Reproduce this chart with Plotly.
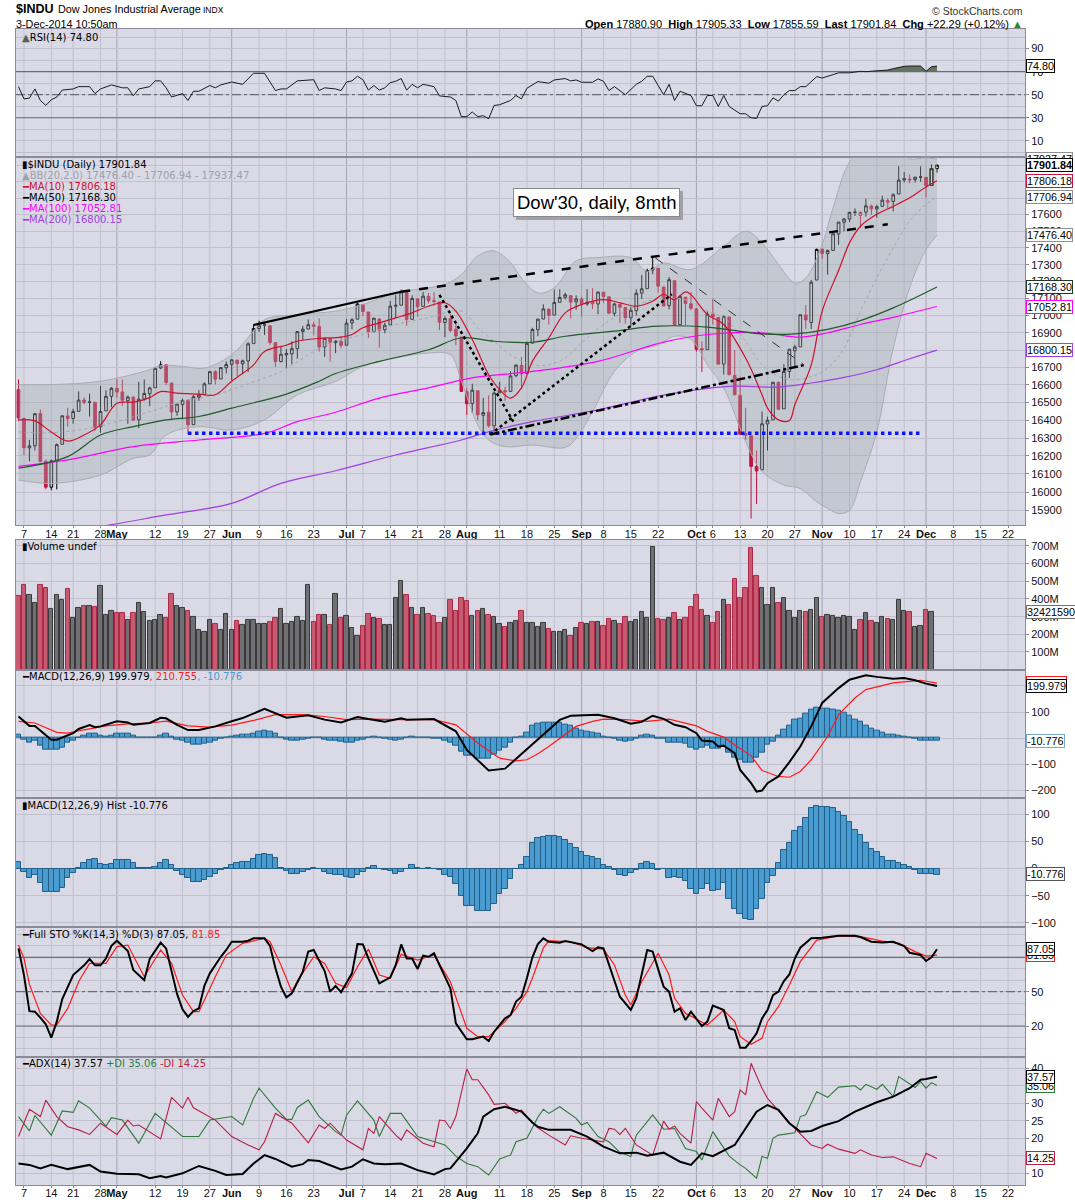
import math
import plotly.graph_objects as go
from plotly.subplots import make_subplots

# one entry per trading day, 4-Apr-2014 (index 0) .. 3-Dec-2014 (index 168)
opens = [16573, 16410, 16245, 16256, 16437, 16170, 16027, 16175, 16265, 16424,
         16410, 16450, 16514, 16503, 16500, 16363, 16453, 16535, 16580, 16560,
         16510, 16530, 16402, 16520, 16550, 16584, 16697, 16715, 16610, 16447,
         16488, 16511, 16375, 16530, 16545, 16606, 16676, 16634, 16698, 16718,
         16742, 16720, 16737, 16837, 16925, 16944, 16940, 16843, 16734, 16772,
         16778, 16808, 16907, 16922, 16946, 16936, 16818, 16867, 16843, 16850,
         16828, 16957, 16979, 17065, 17021, 16907, 16980, 16917, 16946, 17055,
         17061, 17135, 16978, 17098, 17054, 17113, 17088, 17080, 16960, 16983,
         16920, 16875, 16561, 16494, 16567, 16428, 16445, 16368, 16556, 16567,
         16563, 16653, 16712, 16665, 16840, 16918, 16980, 17038, 17003, 17078,
         17107, 17117, 17081, 17097, 17068, 17081, 17068, 17137, 17110, 17013,
         17066, 17048, 16988, 17029, 17132, 17158, 17268, 17278, 17168, 17058,
         17205, 16947, 17108, 17069, 17040, 16808, 16802, 17010, 16989, 16719,
         16992, 16654, 16540, 16326, 16313, 16142, 16123, 16379, 16402, 16614,
         16464, 16677, 16796, 16818, 17004, 16960, 17209, 17392, 17366, 17385,
         17483, 17554, 17573, 17613, 17595, 17615, 17652, 17634, 17650, 17675,
         17680, 17725, 17811, 17810, 17813, 17830, 17827, 17777, 17881]
highs = [16631, 16415, 16290, 16440, 16460, 16180, 16180, 16270, 16425, 16470,
         16465, 16563, 16530, 16550, 16505, 16595, 16570, 16588, 16632, 16632,
         16540, 16535, 16618, 16631, 16590, 16700, 16736, 16718, 16615, 16492,
         16522, 16520, 16543, 16570, 16615, 16680, 16684, 16700, 16735, 16745,
         16743, 16745, 16845, 16950, 16970, 16960, 16945, 16846, 16823, 16807,
         16851, 16910, 16939, 16978, 16963, 16983, 16870, 16867, 16855, 16880,
         16980, 16985, 17074, 17068, 17021, 16987, 16985, 16960, 17086, 17120,
         17152, 17151, 17119, 17100, 17140, 17133, 17138, 17080, 16996, 17010,
         16965, 16875, 16580, 16607, 16567, 16526, 16541, 16562, 16617, 16590,
         16678, 16718, 16760, 16849, 16929, 16983, 17066, 17038, 17153, 17154,
         17135, 17117, 17119, 17111, 17155, 17161, 17141, 17137, 17110, 17075,
         17066, 17048, 17050, 17155, 17239, 17276, 17350, 17281, 17168, 17227,
         17205, 17121, 17108, 17138, 17040, 16850, 17027, 17099, 16993, 17001,
         16992, 16800, 16647, 16470, 16313, 16230, 16449, 16420, 16615, 16621,
         16719, 16805, 16830, 17005, 17061, 17210, 17396, 17396, 17389, 17485,
         17555, 17578, 17617, 17637, 17620, 17697, 17660, 17660, 17715, 17700,
         17730, 17895, 17859, 17845, 17830, 17894, 17828, 17904, 17905]
lows = [16395, 16205, 16170, 16230, 16165, 16015, 16010, 16015, 16265, 16364,
        16380, 16450, 16490, 16420, 16340, 16330, 16453, 16474, 16527, 16481,
        16380, 16395, 16355, 16510, 16480, 16584, 16690, 16600, 16400, 16425,
        16405, 16320, 16375, 16510, 16540, 16606, 16603, 16633, 16666, 16625,
        16651, 16662, 16674, 16837, 16905, 16888, 16830, 16703, 16728, 16698,
        16719, 16750, 16856, 16922, 16886, 16791, 16761, 16733, 16782, 16810,
        16828, 16920, 16979, 16997, 16870, 16902, 16815, 16897, 16946, 16986,
        17061, 16940, 16978, 16993, 17054, 17071, 17057, 16915, 16875, 16904,
        16828, 16563, 16430, 16440, 16400, 16333, 16358, 16334, 16556, 16510,
        16563, 16643, 16575, 16665, 16840, 16880, 16980, 16948, 17003, 17078,
        17094, 16983, 17034, 16994, 17058, 17038, 17008, 17074, 17010, 16996,
        16958, 16953, 16935, 17000, 17097, 17158, 17243, 17135, 17055, 17036,
        16940, 16947, 16945, 17031, 16791, 16674, 16802, 16947, 16719, 16659,
        16654, 16541, 16321, 16290, 15855, 15935, 16123, 16230, 16402, 16459,
        16464, 16640, 16696, 16818, 16922, 16922, 17209, 17335, 17240, 17384,
        17418, 17498, 17556, 17592, 17522, 17588, 17598, 17581, 17650, 17640,
        17620, 17725, 17795, 17790, 17795, 17800, 17705, 17777, 17856]
closes = [16413, 16246, 16256, 16437, 16170, 16027, 16173, 16263, 16425, 16409,
          16449, 16514, 16501, 16502, 16361, 16449, 16535, 16581, 16559, 16513,
          16531, 16401, 16519, 16551, 16583, 16695, 16715, 16614, 16447, 16491,
          16512, 16374, 16533, 16543, 16606, 16676, 16633, 16699, 16717, 16744,
          16722, 16738, 16836, 16924, 16943, 16946, 16844, 16734, 16776, 16781,
          16808, 16907, 16921, 16947, 16937, 16818, 16868, 16846, 16852, 16827,
          16956, 16976, 17068, 17024, 16906, 16985, 16915, 16944, 17055, 17060,
          17138, 16977, 17100, 17052, 17114, 17087, 17083, 16961, 16983, 16913,
          16881, 16563, 16493, 16570, 16430, 16443, 16369, 16554, 16570, 16561,
          16651, 16713, 16663, 16839, 16919, 16979, 17039, 17001, 17077, 17106,
          17122, 17079, 17098, 17067, 17078, 17069, 17138, 17111, 17014, 17068,
          17049, 16988, 17031, 17131, 17157, 17266, 17280, 17173, 17056, 17211,
          16946, 17113, 17071, 17043, 16804, 16801, 17009, 16992, 16719, 16994,
          16659, 16544, 16321, 16316, 16142, 16117, 16380, 16400, 16615, 16462,
          16677, 16805, 16818, 17005, 16975, 17196, 17391, 17367, 17384, 17485,
          17555, 17574, 17614, 17615, 17613, 17653, 17635, 17648, 17688, 17686,
          17720, 17810, 17818, 17815, 17828, 17828, 17776, 17880, 17902]
# millions of shares; the live day (3-Dec) has no bar
volume_m = [416, 479, 420, 375, 477, 460, 346, 420, 397, 454,
            295, 352, 359, 363, 357, 473, 312, 335, 320, 323,
            284, 323, 380, 325, 274, 284, 312, 291, 431, 363,
            350, 331, 301, 227, 216, 284, 261, 227, 314, 223,
            274, 252, 280, 284, 257, 261, 269, 295, 341, 261,
            269, 301, 274, 482, 269, 312, 312, 255, 431, 295,
            306, 238, 193, 250, 318, 295, 289, 252, 255, 403,
            501, 420, 352, 312, 352, 318, 305, 267, 295, 397,
            335, 403, 388, 306, 335, 346, 312, 301, 261, 244,
            267, 278, 335, 267, 267, 244, 267, 229, 216, 216,
            223, 193, 238, 267, 261, 272, 272, 250, 289, 278,
            261, 301, 272, 284, 329, 295, 692, 289, 284, 295,
            323, 284, 295, 357, 425, 340, 306, 267, 329, 397,
            369, 511, 408, 460, 687, 528, 460, 369, 460, 375,
            403, 335, 295, 335, 329, 340, 408, 301, 312, 306,
            295, 306, 301, 227, 284, 323, 278, 267, 301, 289,
            284, 392, 335, 329, 244, 250, 340, 324, None]
macd_hist = [12, -6, -17, -11, -27, -43, -43, -43, -36, -17,
             -8, 2, 10, 16, 17, 8, 7, 9, 16, 16,
             16, 11, 1, 1, 1, 3, 11, 16, 6, -4,
             -11, -18, -25, -25, -21, -16, -10, -2, 2, 6,
             11, 12, 12, 17, 26, 27, 26, 19, 1, -4,
             -10, -10, -6, -2, 1, 0, -6, -10, -11, -12,
             -16, -17, -11, -6, 2, 5, 0, -2, -4, -9,
             -6, 0, 6, 2, 0, 1, -1, -3, -11, -16,
             -28, -50, -68, -68, -78, -78, -78, -65, -47, -37,
             -19, 0, 7, 22, 48, 57, 59, 61, 61, 59,
             53, 46, 38, 30, 23, 22, 17, 6, 3, -3,
             -11, -13, -8, -3, 8, 13, 8, -3, -1, -18,
             -16, -18, -23, -37, -46, -37, -29, -41, -40, -27,
             -55, -74, -83, -93, -95, -75, -56, -26, -14, 10,
             34, 48, 69, 76, 93, 111, 116, 113, 113, 111,
             104, 97, 85, 72, 62, 48, 37, 30, 21, 14,
             14, 10, 6, 3, -3, -10, -10, -10, -10.776]

# indicator lines: (trading-day index, value)
rsi_pts = [(0, 57), (1, 46.4), (2, 47), (3, 55), (4, 45), (5, 40.7), (6, 45.6), (7, 48), (8, 54), (10, 55),
           (11, 57), (13, 57), (14, 51), (15, 55), (17, 58.5), (19, 56), (20, 56), (21, 49), (22, 55), (24, 57),
           (25, 62), (26, 62), (27, 56), (28, 48), (30, 51), (31, 45), (32, 53), (33, 53), (35, 58), (36, 56),
           (37, 58.5), (39, 61), (41, 59), (43, 68.6), (45, 68.6), (47, 53.6), (48, 55), (49, 55), (51, 62), (54, 63),
           (55, 53.6), (56, 56), (58, 55), (59, 53.6), (60, 61), (61, 62), (62, 66), (63, 63), (64, 54), (65, 58),
           (66, 54), (67, 56), (68, 60.5), (69, 61.7), (70, 64), (71, 54), (72, 59), (73, 56), (74, 59), (75, 58),
           (76, 57), (77, 49), (79, 48), (80, 45), (81, 31), (82, 31), (83, 35), (84, 31), (85, 31.8), (86, 29.2),
           (87, 40.7), (88, 41.3), (90, 45), (91, 49.3), (92, 46.4), (93, 55.6), (95, 61.4), (97, 60), (98, 62.8),
           (100, 64), (101, 62), (102, 62.8), (103, 60.8), (105, 60.8), (106, 63.7), (107, 61.7), (108, 53.6),
           (109, 57), (111, 50), (113, 59), (114, 61.7), (115, 66), (116, 66), (117, 58), (118, 50), (119, 59),
           (120, 45), (121, 53), (122, 51), (123, 49.3), (124, 40.4), (125, 40.4), (126, 49.3), (127, 49.3),
           (128, 39.8), (129, 49.3), (130, 39.8), (131, 37), (132, 33.5), (133, 33.5), (134, 30), (135, 29.5),
           (136, 39.8), (137, 40.4), (138, 47.3), (139, 44.4), (140, 50), (141, 53.6), (142, 53.6), (143, 57),
           (144, 57), (146, 65.7), (147, 64.5), (149, 67.4), (150, 69), (152, 69), (154, 70.3), (155, 70),
           (157, 71), (159, 71.4), (160, 72.6), (162, 74.6), (163, 74.9), (165, 74.9), (166, 70.3), (167, 74.3),
           (168, 74.8)]
ma10_pts = [(0, 16402), (3, 16396), (6, 16334), (9, 16283), (12, 16317), (15, 16374), (18, 16496), (21, 16502),
            (24, 16528), (26, 16562), (29, 16553), (33, 16548), (36, 16544), (39, 16621), (43, 16715), (45, 16792),
            (49, 16828), (51, 16851), (55, 16867), (59, 16875), (61, 16890), (63, 16929), (66, 16958), (69, 16987),
            (72, 17016), (75, 17055), (78, 17075), (80, 17026), (83, 16861), (86, 16658), (88, 16573), (90, 16525),
            (92, 16583), (94, 16735), (97, 16871), (100, 17016), (103, 17065), (107, 17094), (110, 17075),
            (113, 17055), (116, 17084), (118, 17125), (120, 17094), (122, 17139), (123, 17123), (126, 17006),
            (129, 16948), (133, 16754), (136, 16544), (137, 16468), (139, 16402), (141, 16398), (142, 16487),
            (145, 16715), (147, 17026), (150, 17265), (152, 17430), (154, 17530), (157, 17602), (160, 17650),
            (163, 17702), (166, 17768), (168, 17806)]
ma50_pts = [(0, 16132), (9, 16196), (15, 16317), (21, 16364), (27, 16402), (33, 16421), (39, 16468), (49, 16548),
            (55, 16621), (58, 16665), (66, 16735), (75, 16802), (81, 16871), (87, 16851), (94, 16845), (100, 16880),
            (109, 16910), (117, 16939), (126, 16933), (136, 16894), (142, 16894), (148, 16920), (154, 16971),
            (160, 17045), (168, 17168)]
ma100_pts = [(0, 16142), (9, 16178), (21, 16252), (33, 16289), (45, 16326), (51, 16392), (58, 16445),
             (66, 16525), (75, 16583), (83, 16640), (94, 16677), (106, 16735), (118, 16846), (126, 16890),
             (136, 16900), (143, 16875), (148, 16900), (154, 16948), (160, 16990), (168, 17053)]
ma200_pts = [(10, 15790), (17, 15822), (27, 15875), (39, 15938), (48, 16048), (58, 16118), (69, 16205),
             (81, 16289), (86, 16335), (94, 16392), (106, 16458), (118, 16542), (130, 16592), (139, 16588),
             (145, 16611), (151, 16643), (157, 16687), (163, 16750), (168, 16800)]
bb_up_pts = [(0, 16602), (6, 16602), (15, 16621), (24, 16687), (26, 16711), (30, 16706), (34, 16696), (39, 16773),
             (43, 16910), (45, 16977), (51, 17006), (58, 17026), (63, 17065), (69, 17133), (75, 17163), (78, 17182),
             (81, 17241), (84, 17352), (87, 17382), (90, 17312), (92, 17221), (95, 17133), (98, 17163), (102, 17322),
             (106, 17342), (112, 17342), (115, 17261), (118, 17310), (123, 17271), (129, 17410), (133, 17500),
             (136, 17430), (139, 17302), (142, 17192), (144, 17221), (147, 17420), (149, 17642), (152, 17920),
             (155, 18010), (158, 18030), (161, 18000), (163, 17940), (166, 17947), (168, 17937)]
bb_lo_pts = [(0, 16067), (6, 16048), (15, 16094), (21, 16187), (24, 16205), (27, 16317), (33, 16364), (39, 16345),
             (45, 16402), (51, 16544), (58, 16620), (63, 16706), (69, 16754), (75, 16783), (79, 16773), (81, 16621),
             (84, 16374), (86, 16289), (89, 16252), (94, 16261), (100, 16247), (102, 16298), (105, 16449),
             (109, 16677), (113, 16792), (117, 16830), (120, 16880), (123, 16861), (126, 16715), (129, 16583),
             (133, 16279), (136, 16113), (140, 16039), (143, 16020), (146, 15947), (148, 15911), (150, 15883),
             (152, 15900), (154, 16057), (157, 16336), (160, 16811), (163, 17163), (166, 17390), (168, 17476)]
bb_mid_pts = [(0, 16334), (6, 16330), (12, 16350), (18, 16392), (24, 16449), (30, 16506), (36, 16544),
              (42, 16606), (48, 16677), (54, 16792), (57, 16841), (63, 16890), (69, 16948), (75, 16987),
              (81, 17026), (84, 16929), (87, 16851), (90, 16773), (94, 16715), (97, 16715), (100, 16754),
              (103, 16841), (107, 16948), (111, 17026), (115, 17084), (118, 17103), (123, 17084), (126, 17026),
              (129, 16987), (133, 16851), (136, 16715), (139, 16648), (142, 16629), (145, 16648), (148, 16696),
              (151, 16811), (154, 17026), (157, 17221), (160, 17400), (163, 17561), (166, 17662), (168, 17707)]
macd_pts = [(0, 83), (2, 47), (3, 47), (6, -6), (7, -6), (10, 19), (11, 35), (13, 50), (14, 42), (15, 45),
            (18, 65), (20, 60), (21, 51), (24, 58), (26, 78), (27, 76), (29, 51), (31, 31), (33, 31), (36, 45),
            (39, 65), (41, 77), (45, 112), (46, 103), (49, 78), (53, 88), (56, 71), (59, 60), (62, 81), (64, 73),
            (67, 63), (70, 76), (71, 71), (76, 73), (78, 50), (80, 26), (82, -45), (86, -124), (89, -117),
            (92, -60), (95, -5), (97, 32), (99, 70), (101, 86), (104, 88), (106, 90), (109, 76), (112, 55),
            (114, 63), (116, 86), (118, 74), (120, 51), (122, 42), (124, 19), (125, -9), (127, -13), (128, -32),
            (129, -29), (131, -58), (132, -122), (134, -173), (135, -205), (136, -201), (137, -173), (139, -147),
            (141, -92), (143, -32), (145, 45), (147, 135), (150, 192), (152, 224), (155, 241), (157, 235),
            (160, 228), (162, 231), (164, 222), (166, 209), (168, 199.979)]
signal_pts = [(0, 64), (3, 58), (7, 22), (9, 19), (12, 32), (16, 47), (20, 55), (24, 58), (27, 65), (31, 47),
              (35, 42), (39, 50), (43, 68), (47, 90), (52, 90), (56, 83), (60, 71), (64, 73), (70, 71), (76, 71),
              (80, 51), (84, -19), (88, -77), (91, -87), (93, -83), (95, -60), (97, -32), (100, 13), (102, 45),
              (105, 64), (107, 73), (111, 71), (115, 64), (119, 73), (121, 63), (124, 47), (126, 26), (129, 4),
              (131, -26), (134, -68), (136, -124), (139, -147), (141, -150), (143, -128), (145, -83), (148, 6),
              (150, 90), (153, 154), (155, 186), (158, 201), (160, 212), (163, 218), (165, 222), (168, 210.755)]
stok_pts = [(0, 87.8), (1, 64.5), (2, 33), (3, 32.5), (4, 27.3), (5, 21.5), (6, 9.8), (7, 23.8), (8, 43.6),
            (10, 64.5), (12, 73), (13, 78.5), (14, 73), (15, 73), (16, 79), (17, 90), (18, 94.5), (19, 90),
            (20, 85.5), (21, 69), (23, 60), (24, 78.5), (26, 92.8), (27, 87.8), (29, 48), (30, 34.6), (31, 28),
            (32, 33), (33, 35.4), (34, 55), (35, 66), (37, 80.5), (38, 86.4), (39, 93.6), (41, 93.6), (42, 94.5),
            (43, 96.6), (45, 96.6), (46, 90), (47, 70.4), (48, 54.4), (49, 45), (50, 48.5), (52, 67.5), (53, 85),
            (54, 86.4), (56, 68), (57, 50), (58, 55), (59, 49.4), (61, 66), (62, 91.6), (63, 91.3), (64, 79),
            (66, 57.3), (68, 62.5), (69, 73.3), (70, 91.3), (71, 79), (72, 79), (73, 69.8), (74, 81.4), (75, 80.5),
            (76, 83.5), (79, 53), (80, 22.3), (82, 8.4), (83, 8.4), (85, 10.7), (86, 6.9), (87, 15), (89, 26.7),
            (90, 29.6), (91, 41.3), (92, 45.6), (93, 62), (94, 80), (95, 91.6), (96, 96.6), (97, 93.6), (99, 92.8),
            (100, 94.2), (103, 91.3), (105, 85.5), (106, 88.7), (107, 87.8), (108, 73.3), (110, 45.6), (112, 34),
            (113, 44.2), (115, 86.4), (116, 85), (118, 54.4), (119, 50), (120, 32.5), (121, 35.4), (122, 25.2),
            (123, 32.5), (125, 20), (126, 23.8), (127, 37.8), (129, 34), (130, 18), (131, 16.5), (132, 1.1),
            (133, 1.1), (134, 6.9), (135, 13.6), (136, 26.7), (137, 34), (138, 47), (139, 50), (140, 59.3),
            (141, 65), (142, 79), (143, 88.4), (145, 96.6), (147, 97.1), (150, 98.9), (153, 98.9), (154, 97.7),
            (156, 93.6), (158, 93), (160, 93.6), (162, 89.9), (163, 84), (165, 82), (166, 76.8), (167, 80),
            (168, 87.05)]
stod_pts = [(0, 90.7), (1, 79), (2, 56.4), (4, 31), (6, 20.9), (7, 20.9), (9, 35.4), (11, 58.7), (13, 74.7),
            (16, 74.7), (18, 89.3), (20, 90.7), (23, 63), (26, 86.4), (28, 74.7), (30, 47), (32, 32.5), (33, 32.5),
            (36, 63), (38, 82), (41, 92.2), (45, 96.6), (46, 93.6), (48, 73.3), (50, 50), (51, 59.3), (54, 80.5),
            (56, 74.7), (58, 57.3), (60, 53.5), (62, 71.8), (64, 87.2), (66, 64.5), (68, 61.6), (70, 82.6),
            (73, 77.6), (76, 82), (79, 58.7), (82, 18), (84, 10.7), (86, 10.7), (89, 23.8), (91, 35.4), (93, 50),
            (94, 62), (95, 75), (96, 88), (97, 94.5), (101, 93.6), (104, 88.4), (107, 87.2), (109, 73.3), (111, 47),
            (112, 38.3), (114, 58.7), (117, 83.5), (119, 64.5), (120, 44.2), (122, 31), (124, 26.1), (126, 20.9),
            (129, 34), (131, 23.8), (132, 10.7), (134, 4), (136, 9.2), (137, 23.8), (139, 36.9), (141, 55.8),
            (143, 76.2), (146, 95.1), (150, 98.6), (154, 98), (158, 94.2), (161, 92.2), (164, 85), (166, 81.1),
            (168, 81.85)]
adx_pts = [(0, 12.8), (2, 12.4), (4, 11.4), (6, 12.4), (9, 11.2), (13, 12.4), (15, 10.5), (18, 9.9), (22, 9.7),
           (24, 8.6), (26, 9.2), (27, 8.8), (30, 10), (33, 12.1), (36, 10.7), (38, 9.5), (41, 9.8), (43, 12.8),
           (45, 15.2), (47, 14.1), (50, 11.9), (52, 12.6), (53, 13.8), (55, 13.5), (59, 11.1), (61, 11.9), (63, 14),
           (65, 12.8), (67, 12.6), (70, 12.8), (73, 10.9), (76, 9.7), (78, 11.2), (79, 11.4), (82, 17.1), (84, 21.4),
           (85, 26.2), (87, 28.3), (89, 29), (92, 27.6), (94, 24.5), (95, 23.3), (97, 22.4), (101, 22.4), (104, 20.5),
           (107, 17.6), (110, 15.7), (113, 15.9), (115, 15), (118, 15.9), (121, 13.3), (123, 12.4), (125, 15.7),
           (127, 14.9), (131, 18.1), (133, 22.8), (135, 27.6), (137, 29.5), (139, 28.1), (141, 24.3), (143, 21.9),
           (145, 22.1), (147, 23.5), (150, 24.9), (153, 27.6), (157, 30.3), (160, 31.9), (163, 34.3), (165, 36.7),
           (166, 36.9), (168, 37.57)]
pdi_pts = [(0, 26.2), (2, 22.1), (3, 26.5), (6, 20.9), (8, 27.8), (10, 27.4), (11, 30.7), (13, 28.6), (16, 23.5),
           (17, 25.9), (19, 25.2), (22, 18.6), (25, 27.1), (29, 21.6), (30, 20.5), (33, 20.5), (35, 25.2), (39, 26.2),
           (41, 23.8), (43, 31.4), (44, 34.3), (47, 28.6), (49, 25.4), (50, 25.4), (51, 28.8), (53, 30.9), (55, 26.2),
           (58, 21.9), (59, 20.9), (60, 26.6), (62, 30.7), (65, 25.2), (66, 20.5), (68, 27.1), (70, 27.1), (73, 20.5),
           (76, 19), (78, 18.1), (80, 14.9), (82, 12.8), (84, 11.9), (86, 9.5), (88, 14.1), (90, 15.2), (91, 19),
           (93, 20), (95, 26), (96, 28.3), (97, 27.1), (99, 29), (102, 25.7), (103, 23.8), (104, 24.5), (106, 20.5),
           (108, 19), (110, 16), (112, 14.8), (113, 20.9), (116, 26.7), (118, 22.6), (120, 22.8), (122, 17.1),
           (124, 16.2), (125, 13.8), (127, 21.9), (130, 14.9), (132, 12.4), (133, 11.4), (135, 8.6), (136, 14.8),
           (137, 14.3), (138, 20), (139, 20.9), (141, 21.4), (142, 21.6), (143, 26.2), (144, 26.7), (146, 33.3),
           (148, 31.7), (150, 34.6), (153, 35), (154, 33.8), (155, 35.4), (157, 34), (158, 35.4), (160, 31.9),
           (161, 37.6), (164, 34.5), (165, 36.2), (166, 34.3), (167, 35.9), (168, 35.06)]
mdi_pts = [(0, 20.5), (2, 28.3), (4, 26.2), (5, 30.9), (7, 26.2), (9, 23.3), (11, 22.4), (13, 21.1), (15, 24.3),
           (18, 21.1), (20, 25.2), (21, 23.5), (22, 23.8), (26, 19.8), (28, 31.7), (30, 28.6), (31, 31.7), (32, 28.7),
           (36, 25.2), (39, 20.5), (42, 18.1), (44, 16.7), (45, 19), (47, 27.1), (50, 24.3), (53, 18.7), (55, 23.8),
           (56, 22.8), (57, 24.3), (60, 19.5), (63, 16.7), (64, 22.8), (65, 21.4), (66, 26.2), (69, 20.9), (70, 19.5),
           (71, 22.4), (74, 18.6), (76, 17.6), (77, 25.2), (78, 25), (79, 22.8), (80, 26.2), (82, 39.8), (83, 36.7),
           (84, 36.7), (86, 32.4), (87, 29.7), (89, 30), (91, 27.1), (92, 28.1), (94, 24.3), (95, 23), (97, 20.9),
           (100, 18.1), (101, 20.7), (103, 20), (107, 19), (108, 22.8), (109, 22.6), (110, 21.1), (111, 22.8),
           (113, 18.1), (116, 15.2), (118, 24.9), (119, 22.6), (120, 23.5), (121, 21.4), (123, 18.6), (124, 30.5),
           (125, 28.6), (127, 25.2), (128, 31.4), (130, 26.2), (131, 27.6), (132, 33.8), (133, 32.4), (134, 41.4),
           (136, 34.3), (137, 31.4), (140, 26.2), (142, 22.8), (145, 18.1), (147, 17.1), (148, 18.3), (150, 16.9),
           (153, 15.7), (154, 16.7), (156, 15.2), (158, 14.5), (160, 14.7), (162, 13.3), (163, 12.8), (165, 11.9),
           (166, 15.7), (168, 14.25)]

# hand-drawn trend lines on the price panel: ([x0, x1], [y0, y1])
line_solid = ([43, 70], [16945, 17140])
line_dash = ([70, 159], [17140, 17542])
line_dot_down = ([77, 90.5], [17121, 16392])
line_dot_up = ([86.3, 119.5], [16320, 17125])
line_dashdot = ([86.3, 143.9], [16320, 16715])
line_thin = ([116.5, 143.6], [17340, 16717])
line_support = ([31, 165], [16327, 16327])

tick_idx = [1, 6, 10, 15, 18, 25, 30, 35, 39, 44, 49, 54, 60, 63, 68, 73, 78, 82, 88, 93, 98, 103, 107, 112,
            117, 124, 127, 132, 137, 142, 147, 152, 157, 162, 166, 171, 176, 181]
tick_txt = ["7", "14", "21", "28", "<b>May</b>", "12", "19", "27", "<b>Jun</b>", "9", "16", "23", "<b>Jul</b>",
            "7", "14", "21", "28", "<b>Aug</b>", "11", "18", "25", "<b>Sep</b>", "8", "15", "22", "<b>Oct</b>",
            "6", "13", "20", "27", "<b>Nov</b>", "10", "17", "24", "<b>Dec</b>", "8", "15", "22"]
month_idx = [18, 39, 60, 82, 103, 124, 147, 166]


def unzip(pts):
    return [p[0] for p in pts], [p[1] for p in pts]


BG = "#dadae6"
GRID = "#c0c0cf"
MONTH = "#a2a2b4"
BORDER = "#8a8a98"
RED = "#c4143c"
GREEN = "#2f7a3a"
BLUE = "#4a9bd0"
FONT = "Liberation Sans"
TFONT = "DejaVu Sans"
X0, X1 = -0.457, 184.1

n = len(closes)
days = list(range(n))
prev = [opens[0]] + closes[:-1]
is_up = [closes[i] >= prev[i] for i in days]

fig = make_subplots(rows=7, cols=1, shared_xaxes=True, vertical_spacing=0)

domains = {1: [0.8893, 1.0], 2: [0.5709, 0.8893], 3: [0.4458, 0.5580], 4: [0.3348, 0.4458],
           5: [0.2229, 0.3348], 6: [0.1110, 0.2229], 7: [0.0, 0.1110]}


def line(pts, color, width, row, dash="solid", shape="linear"):
    x, y = unzip(pts)
    fig.add_trace(go.Scatter(x=x, y=y, mode="lines", line=dict(color=color, width=width, dash=dash, shape=shape),
                             hoverinfo="skip", showlegend=False), row=row, col=1)


def level(value, row, dash):
    fig.add_trace(go.Scatter(x=[X0, X1], y=[value, value], mode="lines",
                             line=dict(color="#6c6c74", width=1.2, dash=dash),
                             hoverinfo="skip", showlegend=False), row=row, col=1)


# ---- RSI ----
level(70, 1, "solid")
level(30, 1, "solid")
level(50, 1, "dashdot")
rx, ry = unzip(rsi_pts)
fig.add_trace(go.Scatter(x=rx, y=[70] * len(rx), mode="lines", line=dict(width=0), hoverinfo="skip",
                         showlegend=False), row=1, col=1)
fig.add_trace(go.Scatter(x=rx, y=[max(v, 70) for v in ry], mode="lines", line=dict(width=0), fill="tonexty",
                         fillcolor="#637263", hoverinfo="skip", showlegend=False), row=1, col=1)
line(rsi_pts, "#1a1a1a", 1, 1)

# ---- price panel ----
bx, blo = unzip(bb_lo_pts)
ux, bup = unzip(bb_up_pts)
fig.add_trace(go.Scatter(x=bx, y=blo, mode="lines", line=dict(color="#a9acb0", width=1, shape="spline"),
                         hoverinfo="skip", showlegend=False), row=2, col=1)
fig.add_trace(go.Scatter(x=ux, y=bup, mode="lines", line=dict(color="#a9acb0", width=1, shape="spline"),
                         fill="tonexty", fillcolor="rgba(160,172,176,0.38)", hoverinfo="skip", showlegend=False),
              row=2, col=1)
line(bb_mid_pts, "#a6a6ae", 1, 2, dash="dot", shape="spline")
line(ma200_pts, "#a040e0", 1.2, 2, shape="spline")
line(ma100_pts, "#ff00ff", 1.2, 2, shape="spline")
line(ma50_pts, "#1f5a2a", 1.2, 2, shape="spline")
line(ma10_pts, "#d0102c", 1.2, 2, shape="spline")

for seg, color, width, dash in [(line_support, "#0a14ff", 3.5, "dot"), (line_solid, "#000000", 2.2, "solid"),
                                (line_dash, "#000000", 2.5, "dash"), (line_dot_down, "#000000", 2.5, "dot"),
                                (line_dot_up, "#000000", 2.5, "dot"), (line_dashdot, "#000000", 2.5, "dashdot"),
                                (line_thin, "#303030", 1, "dash")]:
    fig.add_trace(go.Scatter(x=seg[0], y=seg[1], mode="lines", line=dict(color=color, width=width, dash=dash),
                             hoverinfo="skip", showlegend=False), row=2, col=1)


def candles(idx, color, hollow_fill="rgba(0,0,0,0)"):
    return go.Candlestick(
        x=idx, open=[opens[i] for i in idx], high=[highs[i] for i in idx],
        low=[lows[i] for i in idx], close=[closes[i] for i in idx],
        increasing=dict(line=dict(color=color, width=1), fillcolor=hollow_fill),
        decreasing=dict(line=dict(color=color, width=1), fillcolor=color),
        whiskerwidth=0, hoverinfo="skip", showlegend=False)


fig.add_trace(candles([i for i in days[:-1] if is_up[i]], "#000000"), row=2, col=1)
fig.add_trace(candles([i for i in days[:-1] if not is_up[i]], RED), row=2, col=1)
fig.add_trace(candles([days[-2], days[-1]], "#000000", hollow_fill="#ffff40"), row=2, col=1)
fig.add_trace(candles([days[-2]], "#000000"), row=2, col=1)

# ---- volume ----
fig.add_trace(go.Bar(x=days, y=volume_m, width=0.8,
                     marker=dict(color=["#707074" if u else "#c65a70" for u in is_up],
                                 line=dict(color=["#3a3a3a" if u else "#b02848" for u in is_up], width=1)),
                     hoverinfo="skip", showlegend=False), row=3, col=1)

# ---- MACD ----
fig.add_trace(go.Bar(x=days, y=macd_hist, width=1.0,
                     marker=dict(color=BLUE, line=dict(color="#1f5f88", width=1)),
                     hoverinfo="skip", showlegend=False), row=4, col=1)
line(signal_pts, "#ff1a1a", 1.2, 4)
line(macd_pts, "#000000", 2, 4)

fig.add_trace(go.Bar(x=days, y=macd_hist, width=1.0,
                     marker=dict(color=BLUE, line=dict(color="#1f5f88", width=1)),
                     hoverinfo="skip", showlegend=False), row=5, col=1)

# ---- stochastics ----
level(80, 6, "solid")
level(20, 6, "solid")
level(50, 6, "dashdot")
line(stod_pts, "#ff1a1a", 1.2, 6)
line(stok_pts, "#000000", 2, 6)

# ---- ADX ----
line(pdi_pts, GREEN, 1.1, 7)
line(mdi_pts, "#b81e46", 1.1, 7)
line(adx_pts, "#000000", 2, 7)

# ---- axes ----
fig.update_xaxes(range=[X0, X1], tickmode="array", tickvals=tick_idx, ticktext=tick_txt, tickangle=0,
                 showticklabels=False, showgrid=False, showline=True, mirror=True, automargin=False,
                 linecolor=BORDER, zeroline=False, rangeslider_visible=False, ticks="",
                 tickfont=dict(family=FONT, size=11, color="#111"), fixedrange=True)
fig.update_xaxes(showticklabels=True, ticks="outside", ticklen=2, tickcolor=BORDER, ticklabelstandoff=-3,
                 row=2, col=1)
fig.update_xaxes(showticklabels=True, ticks="outside", ticklen=2, tickcolor=BORDER, ticklabelstandoff=-4,
                 row=7, col=1)

fig.update_yaxes(side="right", showgrid=True, gridcolor=GRID, showline=True, mirror=True, linecolor=BORDER,
                 zeroline=False, ticks="outside", ticklen=3, tickcolor=BORDER, automargin=False,
                 tickfont=dict(family=FONT, size=11, color="#111"), fixedrange=True)
for r, dom in domains.items():
    fig.update_yaxes(domain=dom, row=r, col=1)

minor10 = dict(tickmode="linear", tick0=0, dtick=10, showgrid=True, gridcolor=GRID, ticks="")
fig.update_yaxes(range=[-4, 107], tickmode="array", tickvals=[10, 30, 50, 70, 90], minor=minor10, row=1, col=1)
price_ticks = list(range(15900, 18000, 100))
fig.update_yaxes(type="log", range=[math.log10(15820), math.log10(17952)], tickmode="array",
                 tickvals=price_ticks, ticktext=[str(v) for v in price_ticks], row=2, col=1)
fig.update_yaxes(range=[0, 734], tickmode="array", tickvals=[100, 200, 300, 400, 500, 600, 700],
                 ticktext=["100M", "200M", "300M", "400M", "500M", "600M", "700M"], row=3, col=1)
fig.update_yaxes(range=[-229.6, 262.7], tickmode="array", tickvals=[-200, -100, 0, 100, 200], row=4, col=1)
fig.update_yaxes(range=[-108, 130], tickmode="array", tickvals=[-100, -50, 0, 50, 100], row=5, col=1)
fig.update_yaxes(range=[-6.8, 106.2], tickmode="array", tickvals=[20, 50, 80], minor=minor10, row=6, col=1)
fig.update_yaxes(range=[6.66, 43.3], tickmode="array", tickvals=[10, 15, 20, 25, 30, 35, 40], row=7, col=1)

# weekly and monthly vertical grid lines, drawn under everything
for r in range(1, 8):
    xr = "x" if r == 1 else f"x{r}"
    yr = "y" if r == 1 else f"y{r}"
    for t in tick_idx:
        fig.add_shape(type="line", xref=xr, yref=f"{yr} domain", x0=t, x1=t, y0=0, y1=1,
                      line=dict(color=MONTH if t in month_idx else GRID, width=1), layer="below")


# ---- right-hand value tags ----
def tag(text, y, yref, border, bold=False):
    fig.add_annotation(x=1, xref="paper", xanchor="left", xshift=1, y=y, yref=yref, yanchor="middle",
                       text=f"<b>{text}</b>" if bold else text, showarrow=False,
                       font=dict(family=FONT, size=10.8, color="#000"), bgcolor="white",
                       bordercolor=border, borderwidth=1, borderpad=0)


tag("74.80", 74.8, "y", "#000")
tag("17937.47", math.log10(17937.47), "y2", "#909090")
tag("17901.84", math.log10(17901.84), "y2", "#000", bold=True)
tag("17806.18", math.log10(17806.18), "y2", RED)
tag("17706.94", math.log10(17706.94), "y2", "#909090")
tag("17476.40", math.log10(17476.40), "y2", "#909090")
tag("17168.30", math.log10(17168.30), "y2", "#1f3a22")
tag("17052.81", math.log10(17052.81), "y2", "#ff00ff")
tag("16800.15", math.log10(16800.15), "y2", "#a040e0")
tag("32421590", 324.2, "y3", "#707070")
tag("210.755", 210.755, "y4", "#ff1a1a")
tag("199.979", 199.979, "y4", "#000")
tag("-10.776", -10.776, "y4", "#7aa8c8")
tag("-10.776", -10.776, "y5", "#555")
tag("81.85", 81.85, "y6", "#ff1a1a")
tag("87.05", 87.05, "y6", "#000")
tag("14.25", 14.25, "y7", "#b81e46")
tag("35.06", 35.06, "y7", GREEN)
tag("37.57", 37.57, "y7", "#000")


# ---- panel titles ----
def title(text, row, shift, color="#000"):
    fig.add_annotation(x=0.004, xref="paper", xanchor="left", y=domains[row][1], yref="paper", yanchor="middle",
                       yshift=-shift, text=text, showarrow=False, font=dict(family=TFONT, size=10, color=color))


title("<span style='color:#55605a'>▲</span>RSI(14) 74.80", 1, 8)
title("▮$INDU (Daily) 17901.84", 2, 8)
title("▲BB(20,2.0) 17476.40 - 17706.94 - 17937.47", 2, 19, color="#a0a0a8")
title("━MA(10) 17806.18", 2, 30, color="#d0102c")
title("━MA(50) 17168.30", 2, 41)
title("━MA(100) 17052.81", 2, 52, color="#ff00ff")
title("━MA(200) 16800.15", 2, 63, color="#a040e0")
title("▮Volume undef", 3, 7)
title("━MACD(12,26,9) 199.979<span style='color:#ff1a1a'>, 210.755</span>"
      "<span style='color:#4a9bd0'>, -10.776</span>", 4, 7)
title("▮MACD(12,26,9) Hist -10.776", 5, 7.5)
title("━Full STO %K(14,3) %D(3) 87.05, <span style='color:#ff1a1a'>81.85</span>", 6, 7)
title("━ADX(14) 37.57 <span style='color:#2f7a3a'>+DI 35.06</span> "
      "<span style='color:#b81e46'>-DI 14.25</span>", 7, 7)

# ---- header ----
fig.add_annotation(x=-0.002, xref="paper", xanchor="left", y=1.0173, yref="paper", yanchor="middle",
                   text="<b>$INDU</b>", showarrow=False, font=dict(family=FONT, size=12.5, color="#000"))
fig.add_annotation(x=0.0395, xref="paper", xanchor="left", y=1.0170, yref="paper", yanchor="middle",
                   text="Dow Jones Industrial Average", showarrow=False,
                   font=dict(family=FONT, size=10.8, color="#000"))
fig.add_annotation(x=0.1835, xref="paper", xanchor="left", y=1.0166, yref="paper", yanchor="middle",
                   text="INDX", showarrow=False, font=dict(family=FONT, size=8.5, color="#000"))
fig.add_annotation(x=-0.002, xref="paper", xanchor="left", y=1.0043, yref="paper", yanchor="middle",
                   text="3-Dec-2014 10:50am", showarrow=False, font=dict(family=FONT, size=10.8, color="#000"))
fig.add_annotation(x=1.0, xref="paper", xanchor="right", y=1.0156, yref="paper", yanchor="middle",
                   text="© StockCharts.com", showarrow=False, font=dict(family=FONT, size=10.5, color="#333"))
fig.add_annotation(x=1.0, xref="paper", xanchor="right", y=1.0043, yref="paper", yanchor="middle",
                   text="<b>Open</b> 17880.90  <b>High</b> 17905.33  <b>Low</b> 17855.59  <b>Last</b> 17901.84  "
                        "<b>Chg</b> +22.29 (+0.12%) <span style='color:#2a8a2a'>▲</span>",
                   showarrow=False, font=dict(family=FONT, size=11, color="#000"))

# chart note box with a small drop shadow
for dx, dy, bg, fc in [(3, -3, "#a0a0a8", "rgba(0,0,0,0)"), (0, 0, "white", "#000")]:
    fig.add_annotation(x=0.5758, xref="paper", y=0.8495, yref="paper", xanchor="center", yanchor="middle",
                       xshift=dx, yshift=dy, text="Dow'30, daily, 8mth", showarrow=False,
                       font=dict(family=FONT, size=18.5, color=fc), bgcolor=bg,
                       bordercolor="#8a8a8a" if fc == "#000" else bg, borderwidth=1, borderpad=3)

fig.update_layout(width=1075, height=1200, margin=dict(l=16, r=50, t=29, b=15, autoexpand=False),
                  plot_bgcolor=BG, paper_bgcolor="white", showlegend=False, bargap=0,
                  hovermode=False)

# drop the browser's default 8px body margin so the figure fills the window exactly
fig.write_html("out.html", config={"displayModeBar": False},
               post_script="document.body.style.margin='0px';")
